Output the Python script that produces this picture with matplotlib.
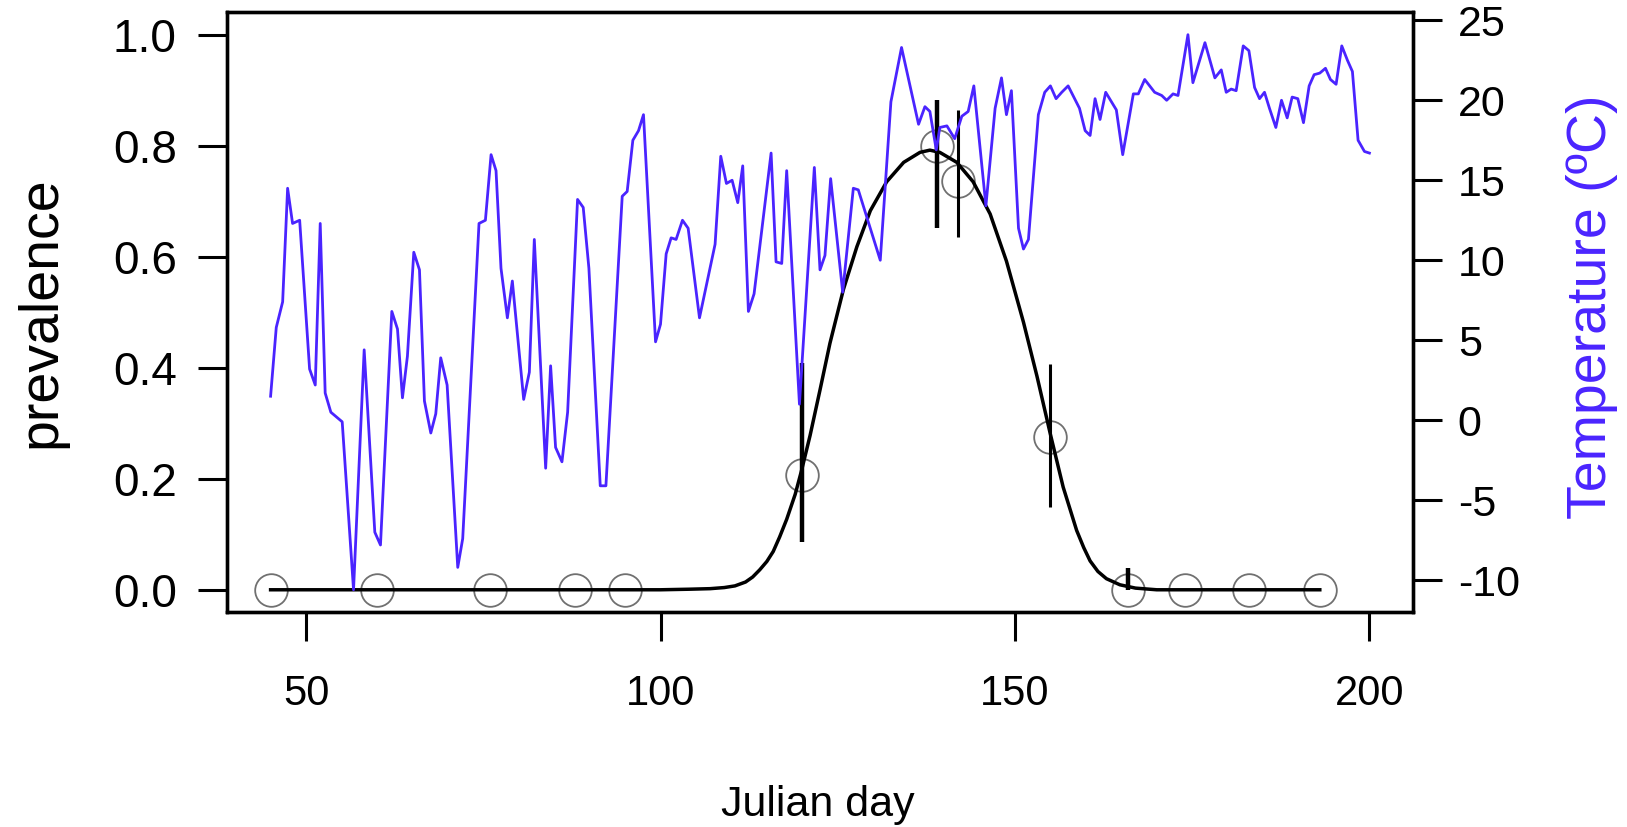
import matplotlib
matplotlib.use("Agg")
import matplotlib.pyplot as plt

plt.rcParams.update({"font.family": ["Liberation Sans", "DejaVu Sans"],
                     "axes.unicode_minus": False})

# daily temperature
temp_day = [45.0, 45.8, 46.7, 47.4, 48.1, 49.1, 50.5, 51.3, 52.0, 52.7, 53.5, 55.1, 56.7, 58.2,
            59.7, 60.5, 62.1, 62.9, 63.6, 64.3, 65.2, 66.0, 66.7, 67.6, 68.3, 69.0, 69.9, 71.4,
            72.1, 74.4, 75.3, 76.1, 76.8, 77.5, 78.4, 79.1, 80.7, 81.5, 82.2, 83.8, 84.5, 85.2,
            86.1, 86.9, 88.3, 89.1, 89.9, 91.5, 92.3, 94.6, 95.3, 96.1, 96.9, 97.6, 99.3, 100.0,
            100.8, 101.5, 102.2, 103.1, 103.9, 105.5, 107.7, 108.5, 109.3, 110.1, 110.9, 111.6,
            112.4, 113.2, 115.6, 116.3, 117.1, 117.8, 119.6, 121.7, 122.5, 123.2, 124.0, 125.7,
            127.2, 127.9, 131.0, 132.5, 134.0, 136.4, 137.3, 138.0, 138.9, 139.4, 140.4, 141.5,
            142.5, 143.4, 144.2, 145.9, 147.2, 148.1, 148.8, 149.5, 150.5, 151.2, 151.9, 153.3,
            154.2, 155.0, 155.8, 156.6, 157.5, 159.1, 159.9, 160.6, 161.3, 162.0, 162.8, 164.3,
            165.2, 166.7, 167.4, 168.3, 169.7, 170.7, 171.4, 172.3, 173.0, 174.4, 175.1, 176.8,
            178.2, 179.1, 179.8, 180.5, 181.2, 182.2, 183.0, 183.8, 184.5, 185.2, 185.9, 186.8,
            187.6, 188.4, 189.1, 189.9, 190.7, 191.5, 192.2, 193.0, 193.8, 194.5, 195.3, 196.1,
            196.9, 197.6, 198.4, 199.3, 200.0]
temp_c = [1.5, 5.8, 7.4, 14.5, 12.3, 12.5, 3.2, 2.2, 12.3, 1.7, 0.5, -0.1, -10.6, 4.4,
          -7.0, -7.8, 6.8, 5.7, 1.4, 4.0, 10.5, 9.4, 1.2, -0.8, 0.4, 3.9, 2.2, -9.2,
          -7.4, 12.3, 12.5, 16.6, 15.6, 9.5, 6.4, 8.7, 1.3, 3.0, 11.3, -3.0, 3.4, -1.7,
          -2.6, 0.5, 13.8, 13.3, 9.5, -4.1, -4.1, 14.0, 14.3, 17.5, 18.1, 19.1, 4.9, 6.0,
          10.4, 11.4, 11.3, 12.5, 12.0, 6.4, 11.0, 16.5, 14.8, 15.0, 13.6, 15.9,
          6.8, 7.9, 16.7, 9.9, 9.8, 15.6, 1.0, 15.8, 9.4, 10.3, 15.1, 8.0,
          14.5, 14.4, 10.0, 19.9, 23.3, 18.5, 19.6, 19.3, 16.9, 18.3, 18.4, 17.6,
          19.0, 19.3, 20.9, 13.4, 19.5, 21.4, 19.1, 20.6, 12.0, 10.7, 11.3, 19.1,
          20.5, 20.9, 20.1, 20.5, 20.9, 19.5, 18.1, 17.8, 20.1, 18.8, 20.5, 19.4,
          16.6, 20.4, 20.4, 21.3, 20.5, 20.3, 20.0, 20.4, 20.3, 24.1, 21.1, 23.6,
          21.4, 21.9, 20.5, 20.7, 20.6, 23.4, 23.1, 20.8, 20.1, 20.5, 19.5, 18.3,
          20.0, 18.9, 20.2, 20.1, 18.6, 20.9, 21.6, 21.7, 22.0, 21.3, 21.0, 23.4,
          22.5, 21.8, 17.5, 16.8, 16.7]

# observed prevalence with confidence limits
samp_day = [45, 60, 76, 88, 95, 120, 139, 142, 155, 166, 174, 183, 193]
prev = [0, 0, 0, 0, 0, 0.206, 0.80, 0.736, 0.275, 0, 0, 0, 0]
ci_day = [120, 139, 142, 155, 166]
ci_lo = [0.086, 0.652, 0.635, 0.150, 0.0]
ci_hi = [0.408, 0.882, 0.865, 0.407, 0.040]
ci_lw = [3.2, 3.2, 2.2, 2.2, 3.2]

# fitted prevalence curve
fit_day = [45, 100, 104, 107, 109, 110.5, 112, 113, 114.0, 115.0, 115.9, 116.8, 117.8, 119.0,
           119.9, 121.1, 122.5, 123.9, 125.8, 127.7, 129.6, 131.9, 134.3, 136.6, 138.0, 139.4,
           141.8, 144.1, 146.5, 148.8, 151.2, 153.1, 155.0, 156.8, 158.7, 159.7, 160.6, 161.7,
           162.9, 164.8, 167, 170, 193]
fit_prev = [0, 0, 0.001, 0.002, 0.004, 0.007, 0.014, 0.023, 0.036, 0.051, 0.069, 0.095, 0.127,
            0.172, 0.215, 0.278, 0.360, 0.444, 0.541, 0.618, 0.683, 0.735, 0.770, 0.788, 0.792,
            0.788, 0.770, 0.735, 0.677, 0.592, 0.482, 0.385, 0.280, 0.185, 0.107, 0.076, 0.052,
            0.033, 0.020, 0.009, 0.003, 0.0, 0.0]

BLUE = "#4a24ff"
TICK_FS = 30

fig = plt.figure(figsize=(16.27, 8.27), dpi=100)
ax = fig.add_axes([0.1393, 0.26, 0.7294, 0.7249])

ax.plot(fit_day, fit_prev, color="black", lw=2.5, zorder=3, solid_joinstyle="round")
ax.vlines(ci_day, ci_lo, ci_hi, colors="black", linewidths=ci_lw, zorder=4)
ax.plot(samp_day, prev, ls="none", marker="o", ms=23.5, mfc="none", mec="#707070", mew=1.3, zorder=2)

span = max(temp_day) - min(temp_day)
ax.set_xlim(min(temp_day) - 0.04 * span, max(temp_day) + 0.04 * span)
ax.set_ylim(-0.04, 1.04)
ax.set_xticks([50, 100, 150, 200])
ax.set_yticks([0, 0.2, 0.4, 0.6, 0.8, 1.0])
ax.set_yticklabels(["0.0", "0.2", "0.4", "0.6", "0.8", "1.0"])

ax2 = ax.twinx()
ax2.plot(temp_day, temp_c, color=BLUE, lw=2.0, solid_joinstyle="round")
tr = max(temp_c) - min(temp_c)
ax2.set_ylim(min(temp_c) - 0.04 * tr, max(temp_c) + 0.04 * tr)
ax2.set_yticks(range(-10, 26, 5))

for a in (ax, ax2):
    for sp in a.spines.values():
        sp.set_linewidth(2.4)
ax.tick_params(axis="x", length=21, width=2.2, labelsize=TICK_FS, pad=24)
ax.tick_params(axis="y", length=21, width=2.2, labelsize=TICK_FS + 3, pad=15)
ax2.tick_params(axis="y", length=21, width=2.2, labelsize=TICK_FS + 1, pad=11)

fig.text(41 / 1627, 1 - 312 / 827, "prevalence", rotation=90, ha="center", va="center", fontsize=40)
fig.text(1592 / 1627, 1 - 307 / 827, "Temperature (ºC)", rotation=90, ha="center", va="center",
         fontsize=40, color=BLUE)
fig.text(818 / 1627, 1 - 816 / 827, "Julian day", ha="center", va="baseline", fontsize=31)

fig.savefig("out.png", dpi=100)
